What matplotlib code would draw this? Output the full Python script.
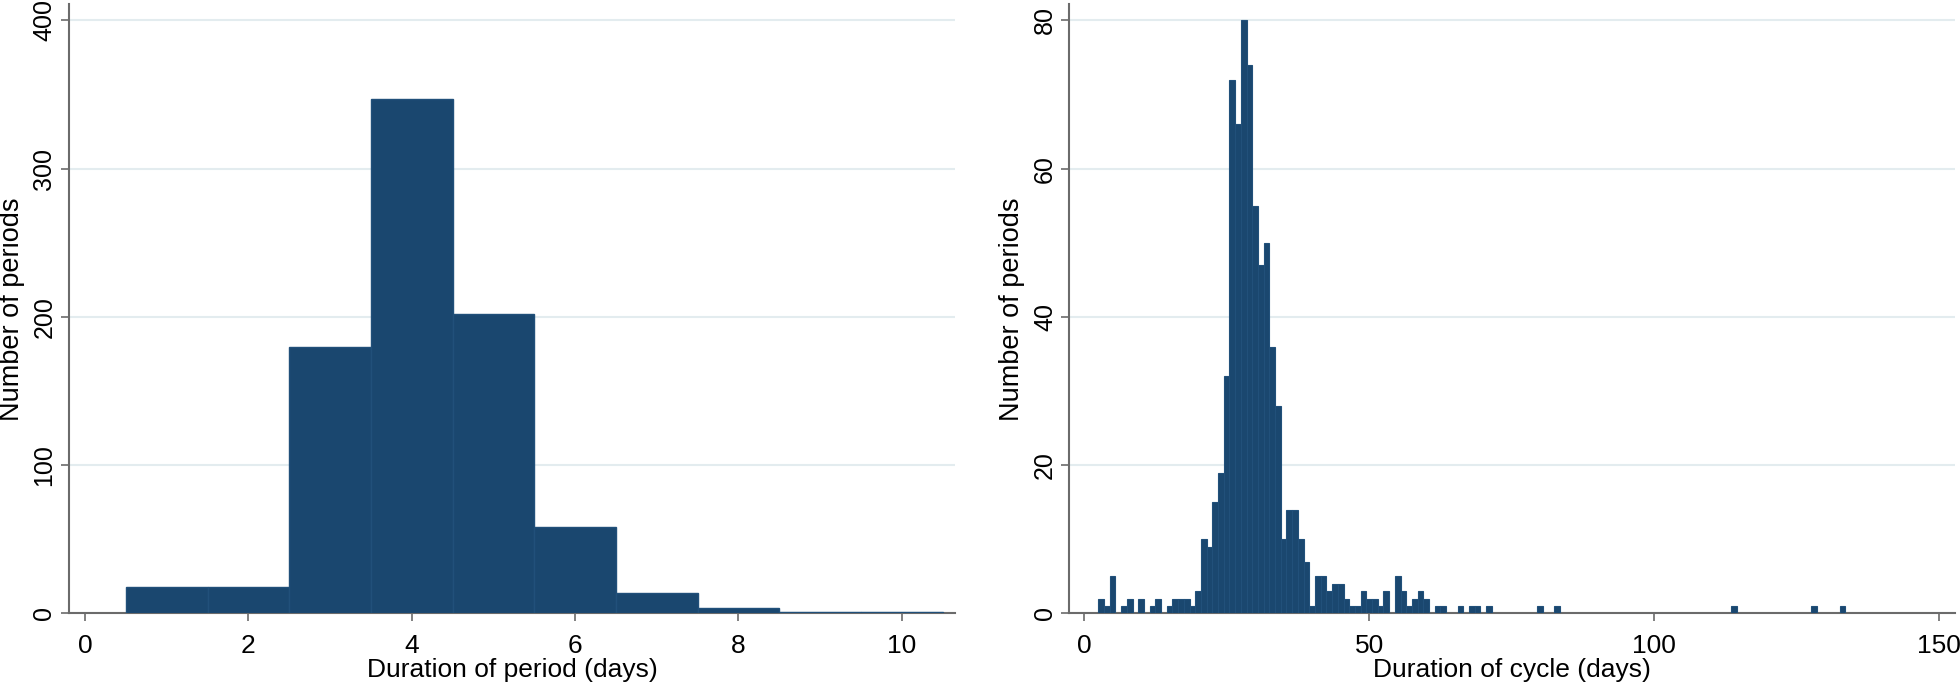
import numpy as np
import matplotlib.pyplot as plt
from matplotlib import font_manager

# horizontal text in the reference looks tall and narrow
names = [f.name for f in font_manager.fontManager.ttflist]
narrow = 'Liberation Sans Narrow' if 'Liberation Sans Narrow' in names else 'Liberation Sans'
plt.rcParams['font.family'] = ['Liberation Sans', 'DejaVu Sans']

# Left histogram: duration of period
period_days = [1, 2, 3, 4, 5, 6, 7, 8, 9, 10]
period_counts = [18, 18, 180, 347, 202, 58, 14, 4, 1, 1]

# Right histogram: duration of cycle (only non-empty bins)
cycle_days = [3, 4, 5, 7, 8, 10, 12, 13, 15, 16, 17, 18, 19, 20,
              21, 22, 23, 24, 25, 26, 27, 28, 29, 30, 31, 32, 33, 34,
              35, 36, 37, 38, 39, 40, 41, 42, 43, 44, 45, 46, 47, 48,
              49, 50, 51, 52, 53, 55, 56, 57, 58, 59, 60, 62, 63, 66,
              68, 69, 71, 80, 83, 114, 128, 133]
cycle_counts = [2, 1, 5, 1, 2, 2, 1, 2, 1, 2, 2, 2, 1, 3,
                10, 9, 15, 19, 32, 72, 66, 80, 74, 55, 47, 50, 36, 28,
                10, 14, 14, 10, 7, 1, 5, 5, 3, 4, 4, 2, 1, 1,
                3, 2, 2, 1, 3, 5, 3, 1, 2, 3, 2, 1, 1, 1,
                1, 1, 1, 1, 1, 1, 1, 1]

period_ticks = [0, 2, 4, 6, 8, 10]
period_yticks = [0, 100, 200, 300, 400]
cycle_ticks = [0, 50, 100, 150]
cycle_yticks = [0, 20, 40, 60, 80]

bar_col = '#1a476f'
edge_col = '#21507a'
axis_col = '#6b6b6b'
grid_col = '#e3ecef'
fs_h = 19    # horizontal text
fs_v = 18    # rotated tick labels


def style_axes(ax, xticks, yticks, xlabel):
    ax.set_xticks(xticks)
    ax.set_yticks(yticks)
    ax.yaxis.grid(True, color=grid_col, linewidth=1.5)
    ax.set_axisbelow(True)
    for s in ['top', 'right']:
        ax.spines[s].set_visible(False)
    for s in ['left', 'bottom']:
        ax.spines[s].set_color(axis_col)
        ax.spines[s].set_linewidth(1.5)
    ax.tick_params(axis='both', colors=axis_col, length=6, width=1.2,
                   labelcolor='black')
    ax.tick_params(axis='x', pad=9)
    ax.tick_params(axis='y', pad=3)
    for lab in ax.get_xticklabels():
        lab.set_family([narrow, 'DejaVu Sans'])
        lab.set_fontsize(fs_h)
    for lab in ax.get_yticklabels():
        lab.set_rotation(90)
        lab.set_va('center')
        lab.set_fontsize(fs_v)
    ax.set_xlabel(xlabel, fontsize=fs_h, family=[narrow, 'DejaVu Sans'],
                  labelpad=0)
    ax.set_ylabel('Number of periods', fontsize=19.5)
    ax.yaxis.set_label_coords(-0.05, 0.5)


fig = plt.figure(figsize=(19.6, 6.84), dpi=100)

ax1 = fig.add_axes([0.0352, 0.1031, 0.452, 0.891])
ax1.bar(period_days, period_counts, width=1, color=bar_col,
        edgecolor=edge_col, linewidth=1.0, zorder=3)
ax1.set_xlim(-0.196, 10.65)
ax1.set_ylim(0, 411)
style_axes(ax1, period_ticks, period_yticks, 'Duration of period (days)')

ax2 = fig.add_axes([0.5456, 0.1031, 0.452, 0.891])
ax2.bar(cycle_days, cycle_counts, width=1, color=bar_col,
        edgecolor=edge_col, linewidth=0.8, zorder=3)
ax2.set_xlim(-2.58, 152.8)
ax2.set_ylim(0, 82.2)
style_axes(ax2, cycle_ticks, cycle_yticks, 'Duration of cycle (days)')

plt.savefig('out.png', dpi=100)
